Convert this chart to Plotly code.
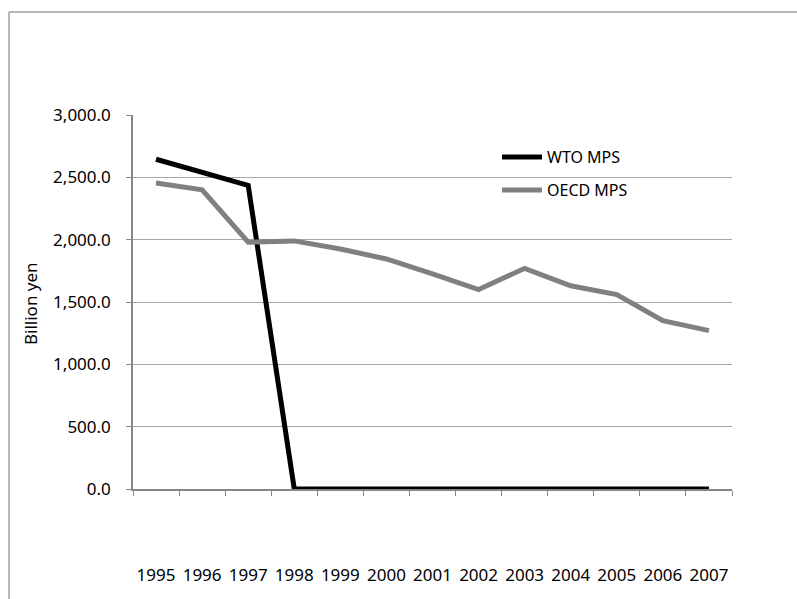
import plotly.graph_objects as go

# Market price support estimates, billion yen
years = ["1995", "1996", "1997", "1998", "1999", "2000", "2001",
         "2002", "2003", "2004", "2005", "2006", "2007"]
wto_mps = [2645, 2540, 2435, 0, 0, 0, 0, 0, 0, 0, 0, 0, 0]
oecd_mps = [2455, 2400, 1980, 1990, 1925, 1845, 1725,
            1600, 1770, 1630, 1560, 1350, 1270]

FONT = "Noto Sans"
AXIS_GREY = "#868686"
GRID_GREY = "#a6a6a6"

fig = go.Figure()
fig.add_trace(go.Scatter(
    x=years, y=wto_mps, mode="lines", name="WTO MPS",
    line=dict(color="#000000", width=5), legend="legend"))
fig.add_trace(go.Scatter(
    x=years, y=oecd_mps, mode="lines", name="OECD MPS",
    line=dict(color="#808080", width=5), legend="legend2"))

legend_style = dict(
    bgcolor="rgba(0,0,0,0)", borderwidth=0,
    font=dict(family=FONT, size=16, color="#000000"),
    xanchor="left", yanchor="middle", itemwidth=40)

# chart frame: top and left edges
frame_x0 = (9 - 133) / 599
frame_y1 = (489 - 12) / 374
fig.add_shape(type="line", xref="paper", yref="paper",
              x0=frame_x0, x1=2, y0=frame_y1, y1=frame_y1,
              line=dict(color="#a0a0a0", width=1.5))
fig.add_shape(type="line", xref="paper", yref="paper",
              x0=frame_x0, x1=frame_x0, y0=-2, y1=frame_y1,
              line=dict(color="#a0a0a0", width=1.5))

fig.add_annotation(
    text="Billion yen", xref="paper", yref="paper",
    x=(30 - 133) / 599, y=(489 - 304) / 374, textangle=-90,
    xanchor="center", yanchor="middle", showarrow=False,
    font=dict(family=FONT, size=17, color="#000000"))

fig.update_layout(
    width=797, height=599,
    margin=dict(l=133, r=65, t=115, b=110, autoexpand=False),
    paper_bgcolor="#ffffff", plot_bgcolor="#ffffff",
    font=dict(family=FONT, size=17, color="#000000"),
    showlegend=True,
    legend=dict(x=(497 - 133) / 599, y=(489 - 157) / 374, **legend_style),
    legend2=dict(x=(497 - 133) / 599, y=(489 - 190) / 374, **legend_style),
    xaxis=dict(
        type="category", range=[-0.5, 12.5], automargin=False,
        showline=True, linecolor=AXIS_GREY, linewidth=1.5,
        ticks="outside", tickson="boundaries", ticklen=5,
        tickcolor=AXIS_GREY, showgrid=False, zeroline=False,
        tickangle=0, ticklabelstandoff=70,
        tickfont=dict(family=FONT, size=17, color="#000000")),
    yaxis=dict(
        range=[0, 3000], dtick=500, tickformat=",.1f", automargin=False,
        showline=True, linecolor=AXIS_GREY, linewidth=1.5,
        ticks="outside", ticklen=5, tickcolor=AXIS_GREY,
        showgrid=True, gridcolor=GRID_GREY, gridwidth=1,
        zeroline=False, ticklabelstandoff=12,
        tickfont=dict(family=FONT, size=17, color="#000000")),
)

fig.write_html("out.html")
